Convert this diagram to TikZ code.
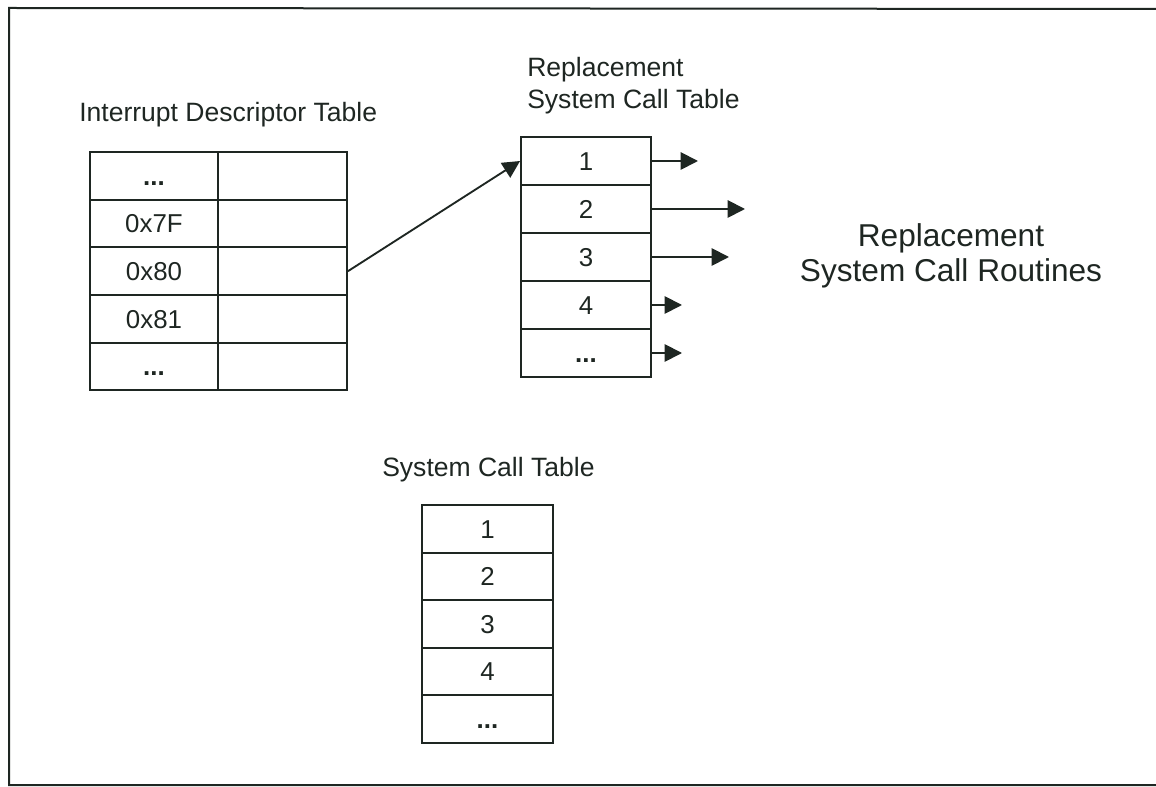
\documentclass[tikz,border=0pt]{standalone}
\usepackage{fontspec}
\setmainfont{Liberation Sans}
\usetikzlibrary{arrows.meta}
\definecolor{ink}{RGB}{30,38,34}
\tikzset{
  cell/.style={draw=ink, line width=1.4pt, rectangle, inner sep=0pt,
    minimum height=47.7*0.75pt, text=ink, text height=13.9pt, text depth=0pt,
    font=\fontsize{19.4}{22}\selectfont},
  label/.style={inner sep=0pt, text=ink, font=\fontsize{19.9}{24}\selectfont},
  ptr/.style={draw=ink, line width=1.4pt, -{Triangle[length=13pt,width=13pt]}},
}
\newcommand{\etc}{\textbf{...}}
\begin{document}
\begin{tikzpicture}[x=0.75pt, y=-0.75pt]
\useasboundingbox (0,0) rectangle (1156,787);
% outer frame
\draw[ink, line width=1.5pt] (1156,9) -- (9,8) -- (9,785) -- (1156,785);

% Interrupt Descriptor Table
\node[label, anchor=base west] (idtT) at (79,122) {Interrupt Descriptor Table};
\foreach \t [count=\i] in {\etc, 0x7F, 0x80, 0x81, \etc} {
  \node[cell, minimum width=128*0.75pt] (i\i a) at (154, 176+47.6*\i-47.6) {\t};
  \node[cell, minimum width=129*0.75pt] (i\i b) at (282.5, 176+47.6*\i-47.6) {};
}

% Replacement System Call Table
\node[label, anchor=base west, align=left] (repT) at (527,109) {Replacement\\System Call Table};
\foreach \t [count=\i] in {1, 2, 3, 4, \etc} {
  \node[cell, minimum width=130*0.75pt, minimum height=48*0.75pt] (r\i) at (586, 161+48*\i-48) {\t};
}

% System Call Table
\node[label, anchor=base west] (sctT) at (382,477) {System Call Table};
\foreach \t [count=\i] in {1, 2, 3, 4, \etc} {
  \node[cell, minimum width=131*0.75pt] (s\i) at (487.5, 528.8+47.6*\i-47.6) {\t};
}

% Replacement routines
\node[inner sep=0pt, text=ink, align=center,
  font=\fontsize{23.7}{26}\selectfont] (rout) at (951,256)
  {Replacement\\System Call Routines};

% pointer from IDT entry 0x80 into the replacement table
\draw[ptr] (i3b.east) -- (r1.west);

% pointers from the replacement table to the routines
\coordinate (e1) at (698,0);
\coordinate (e2) at (745,0);
\coordinate (e3) at (729,0);
\coordinate (e4) at (682,0);
\coordinate (e5) at (682,0);
\foreach \i in {1,...,5} {
  \draw[ptr] (r\i.east) -- (r\i.east -| e\i);
}
\end{tikzpicture}
\end{document}
